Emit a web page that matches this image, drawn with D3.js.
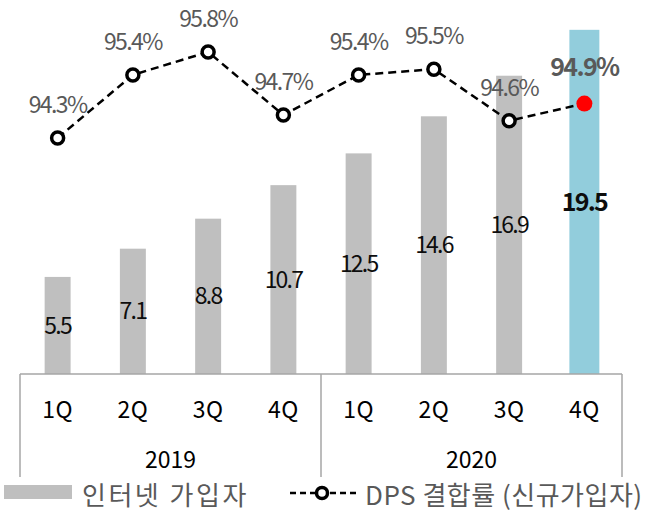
<!DOCTYPE html>
<html>
<head>
<meta charset="utf-8">
<script src="https://cdn.jsdelivr.net/npm/d3@7"></script>
<style>
  body { margin: 0; background: #fff; }
  text { font-family: "Noto Sans CJK KR", "Noto Sans", sans-serif; }
</style>
</head>
<body>
<svg class="chart"></svg>
<script>
// chart values
var years = ["2019", "2020"];
var quarters = ["1Q", "2Q", "3Q", "4Q"];
var subscribers = [5.5, 7.1, 8.8, 10.7, 12.5, 14.6, 16.9, 19.5];
var dpsRate = [94.3, 95.4, 95.8, 94.7, 95.4, 95.5, 94.6, 94.9];
var legendLabels = ["인터넷 가입자", "DPS 결합률 (신규가입자)"];

var width = 651, height = 514;

var svg = d3.select(".chart")
  .attr("width", width)
  .attr("height", height);

// one key per year/quarter
var keys = [];
years.forEach(function(y) {
  quarters.forEach(function(q) { keys.push(y + "-" + q); });
});

var x = d3.scaleBand()
  .domain(keys)
  .range([20, 622])
  .paddingInner(0.655)
  .paddingOuter(0.3275);

var yBar = d3.scaleLinear().domain([0, 20]).range([374, 21]);
var yLine = d3.scaleLinear().domain([93, 96]).range([212.5, 40.5]);

var cx = function(i) { return x(keys[i]) + x.bandwidth() / 2; };
var last = subscribers.length - 1;

// bars
svg.append("g").selectAll("rect")
  .data(subscribers)
  .enter()
  .append("rect")
  .attr("x", function(d, i) { return i === last ? x(keys[i]) - 2 : x(keys[i]); })
  .attr("width", function(d, i) { return i === last ? x.bandwidth() + 4 : x.bandwidth(); })
  .attr("y", function(d) { return yBar(d); })
  .attr("height", function(d) { return yBar(0) - yBar(d); })
  .attr("fill", function(d, i) { return i === last ? "#92CDDC" : "#BFBFBF"; });

// bar value labels, in the middle of each bar
svg.append("g").selectAll("text")
  .data(subscribers)
  .enter()
  .append("text")
  .attr("x", function(d, i) { return cx(i); })
  .attr("y", function(d) { return (yBar(d) + yBar(0)) / 2; })
  .attr("dy", "0.35em")
  .attr("text-anchor", "middle")
  .attr("font-size", function(d, i) { return i === last ? 25 : 23; })
  .attr("font-weight", function(d, i) { return i === last ? "bold" : "normal"; })
  .attr("letter-spacing", "-1.8px")
  .attr("fill", "#0D0D0D")
  .text(function(d) { return d3.format(".1f")(d); });

// category axis frame
var axis = svg.append("g").attr("stroke", "#A6A6A6").attr("stroke-width", 1.5);
axis.append("line").attr("x1", 20).attr("x2", 622).attr("y1", 374).attr("y2", 374);
var bounds = [x.range()[0], (cx(3) + cx(4)) / 2, x.range()[1]];
axis.selectAll(".sep")
  .data(bounds)
  .enter()
  .append("line")
  .attr("x1", function(d) { return d; })
  .attr("x2", function(d) { return d; })
  .attr("y1", 374)
  .attr("y2", 477);

svg.append("g").selectAll("text")
  .data(keys)
  .enter()
  .append("text")
  .attr("x", function(d, i) { return cx(i); })
  .attr("y", 418)
  .attr("text-anchor", "middle")
  .attr("font-size", 23)
  .attr("letter-spacing", "0.5px")
  .attr("fill", "#000")
  .text(function(d) { return d.split("-")[1]; });

svg.append("g").selectAll("text")
  .data(years)
  .enter()
  .append("text")
  .attr("x", function(d, i) { return (bounds[i] + bounds[i + 1]) / 2; })
  .attr("y", 468)
  .attr("text-anchor", "middle")
  .attr("font-size", 23)
  .attr("fill", "#000")
  .text(function(d) { return d; });

// DPS line
var line = d3.line()
  .x(function(d, i) { return cx(i); })
  .y(function(d) { return yLine(d); });

svg.append("path")
  .datum(dpsRate)
  .attr("d", line)
  .attr("fill", "none")
  .attr("stroke", "#000")
  .attr("stroke-width", 2.5)
  .attr("stroke-dasharray", "8,5");

svg.append("g").selectAll("circle")
  .data(dpsRate)
  .enter()
  .append("circle")
  .attr("cx", function(d, i) { return cx(i); })
  .attr("cy", function(d) { return yLine(d); })
  .attr("r", function(d, i) { return i === last ? 8 : 6; })
  .attr("fill", function(d, i) { return i === last ? "#FF0000" : "#fff"; })
  .attr("stroke", function(d, i) { return i === last ? "none" : "#000"; })
  .attr("stroke-width", 3.5);

svg.append("g").selectAll("text")
  .data(dpsRate)
  .enter()
  .append("text")
  .attr("x", function(d, i) { return cx(i); })
  .attr("y", function(d, i) { return yLine(d) - (i === last ? 28 : 25); })
  .attr("text-anchor", "middle")
  .attr("font-size", function(d, i) { return i === last ? 25 : 23; })
  .attr("font-weight", function(d, i) { return i === last ? "bold" : "normal"; })
  .attr("letter-spacing", "-1.6px")
  .attr("fill", "#595959")
  .text(function(d) { return d3.format(".1f")(d) + "%"; });

// legend
var legend = svg.append("g");
legend.append("rect")
  .attr("x", 4).attr("y", 485).attr("width", 68).attr("height", 14)
  .attr("fill", "#BFBFBF");
legend.append("text")
  .attr("x", 82).attr("y", 505)
  .attr("font-size", 26)
  .attr("letter-spacing", "2.5px")
  .attr("fill", "#595959")
  .text(legendLabels[0]);
legend.append("line")
  .attr("x1", 290).attr("x2", 358).attr("y1", 493).attr("y2", 493)
  .attr("stroke", "#000").attr("stroke-width", 2.5)
  .attr("stroke-dasharray", "6,4");
legend.append("circle")
  .attr("cx", 322).attr("cy", 493).attr("r", 5.5)
  .attr("fill", "#fff").attr("stroke", "#000").attr("stroke-width", 3.5);
legend.append("text")
  .attr("x", 365).attr("y", 505)
  .attr("font-size", 26)
  .attr("letter-spacing", "0.5px")
  .attr("fill", "#595959")
  .text(legendLabels[1]);
</script>
</body>
</html>
